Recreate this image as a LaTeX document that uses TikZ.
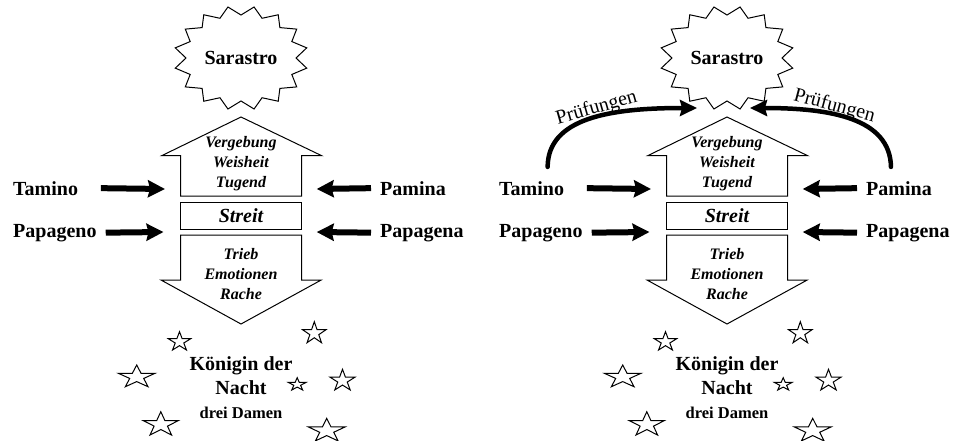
\documentclass[tikz,border=0pt]{standalone}
\usepackage{fontspec}
\setmainfont{Liberation Serif}
\usetikzlibrary{arrows.meta}
\tikzset{
  namelbl/.style={font=\fontsize{20}{24}\selectfont\bfseries, inner sep=0pt, anchor=base west},
  virtue/.style={font=\fontsize{16}{19}\selectfont\bfseries\itshape, inner sep=0pt, anchor=base},
  strlbl/.style={font=\fontsize{20}{24}\selectfont\bfseries\itshape, inner sep=0pt, anchor=base},
  biglbl/.style={font=\fontsize{20}{24}\selectfont\bfseries, inner sep=0pt, anchor=base},
  smalllbl/.style={font=\fontsize{16.5}{19}\selectfont\bfseries, inner sep=0pt, anchor=base},
  plbl/.style={font=\fontsize{20}{24}\selectfont, inner sep=0pt, anchor=base},
  outline/.style={draw=black, line width=1pt, line join=miter},
  fatarrow/.style={line width=6pt, -{Stealth[length=17pt,width=17pt,inset=2pt]}},
  trialarrow/.style={line width=4.5pt, line cap=round, -{Stealth[length=17pt,width=16pt,inset=2pt]}},
}
% 5-point star: centre x, centre y, rx, ry
\newcommand\qstar[4]{%
  \draw[outline] plot[samples at={0,...,9}, variable=\k]
    ({#1 + (mod(\k,2)==0 ? 1 : 0.382)*#3*cos(90+36*\k)},
     {#2 - (mod(\k,2)==0 ? 1 : 0.382)*#4*sin(90+36*\k)}) -- cycle;}
\newcommand\zpanel[2]{%
\begin{scope}[shift={(#2,0)}]
  % starburst
  \draw[outline] plot[samples at={0,...,31}, variable=\k]
    ({241 + (mod(\k,2)==1 ? 67 : 55)*cos(11.25*\k)},
     {58 - (mod(\k,2)==1 ? 52 : 43)*sin(11.25*\k)}) -- cycle;
  \node[biglbl] (sar#1) at (241,64) {Sarastro};
  % up arrow (house)
  \draw[outline] (241,117) -- (321.7,155.7) -- (301.5,155.7) -- (301.5,196)
     -- (180.7,196) -- (180.7,155.7) -- (161.7,155.7) -- cycle;
  \node[virtue] (verg#1) at (241,147) {Vergebung};
  \node[virtue] (weis#1) at (241,167) {Weisheit};
  \node[virtue] (tug#1) at (241,187) {Tugend};
  % Streit box
  \draw[outline] (180.7,202.7) rectangle (301.5,229);
  \node[strlbl] (str#1) at (241,222) {Streit};
  % down arrow
  \draw[outline] (180.7,235) -- (301.5,235) -- (301.5,280) -- (321.2,280)
     -- (241,324) -- (161,280) -- (180.7,280) -- cycle;
  \node[virtue] (trieb#1) at (241,259) {Trieb};
  \node[virtue] (emo#1) at (241,279) {Emotionen};
  \node[virtue] (rache#1) at (241,299) {Rache};
  % names
  \node[namelbl] (tam#1) at (13,195) {Tamino};
  \node[namelbl] (pap#1) at (13,237) {Papageno};
  \node[namelbl] (pam#1) at (380,195) {Pamina};
  \node[namelbl] (ppa#1) at (380,237) {Papagena};
  \coordinate (hTL#1) at (165,189);
  \coordinate (hPL#1) at (163.5,232);
  \coordinate (hTR#1) at (316.7,189);
  \coordinate (hPR#1) at (316.7,232);
  \draw[fatarrow] ([xshift=22.7pt]tam#1.east) -- (hTL#1);
  \draw[fatarrow] ([xshift=9pt]pap#1.east) -- (hPL#1);
  \draw[fatarrow] ([xshift=-9pt]pam#1.west) -- (hTR#1);
  \draw[fatarrow] ([xshift=-9pt]ppa#1.west) -- (hPR#1);
  % queen and stars
  \node[biglbl] (kon#1) at (241,370) {Königin der};
  \node[biglbl] (nacht#1) at (241,394) {Nacht};
  \node[smalllbl] (dam#1) at (241,418.3) {drei Damen};
  \qstar{179.5}{341.8}{11.8}{10.1}
  \qstar{314.3}{333.3}{12.3}{11.6}
  \qstar{136.7}{377}{19.3}{12}
  \qstar{297.2}{384.5}{9.3}{6.8}
  \qstar{342.5}{380.7}{13.1}{11.4}
  \qstar{160.8}{424.6}{18.4}{12.9}
  \qstar{326.7}{430.8}{19.3}{12.5}
\end{scope}}
\begin{document}
\begin{tikzpicture}[x=1pt,y=-1pt]
  \useasboundingbox (0,0) rectangle (961,440);
  \zpanel{L}{0}
  \zpanel{R}{486}
  % trials (right panel only)
  \coordinate (trialL) at (697,108);
  \coordinate (trialR) at (750,108);
  \draw[trialarrow] ([shift={(16pt,14pt)}]tamR.north) .. controls (548,118) and (610,108) .. (trialL);
  \draw[trialarrow] ([shift={(-8pt,14pt)}]pamR.north) .. controls (890,118) and (830,108) .. (trialR);
  \node[plbl, rotate=16] (prL) at (598,113) {Prüfungen};
  \node[plbl, rotate=-15] (prR) at (833,111) {Prüfungen};
\end{tikzpicture}
\end{document}
